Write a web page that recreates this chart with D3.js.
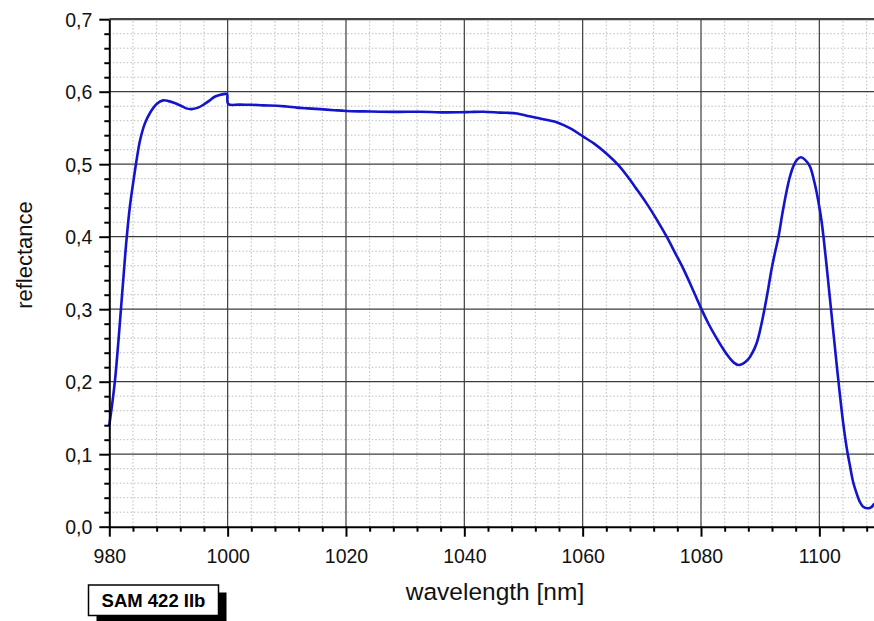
<!DOCTYPE html>
<html>
<head>
<meta charset="utf-8">
<script src="https://cdn.jsdelivr.net/npm/d3@7"></script>
<style>
    body { margin: 0; background: #fff; }
    text { font-family: Arial, "Liberation Sans", sans-serif; }
</style>
</head>
<body>
<div id="graph"></div>
<script>
// Spectrum: wavelength (nm) and reflectance
const wavelength = [980.0, 980.5, 981.0, 981.5, 981.9, 982.4, 982.9, 983.5, 984.1, 984.6,
    985.2, 986.0, 986.9, 988.0, 989.1, 990.0, 990.8, 992.0, 993.0, 993.9,
    995.0, 995.9, 996.8, 997.6, 998.5, 999.6, 999.9, 1000.1, 1002.0, 1004.0,
    1006.0, 1008.3, 1010.0, 1011.7, 1013.5, 1015.6, 1018.0, 1020.0, 1023.0, 1025.7,
    1029.0, 1032.5, 1036.0, 1039.3, 1041.0, 1043.2, 1046.0, 1048.9, 1051.0, 1052.8,
    1055.6, 1058.0, 1060.1, 1062.0, 1064.1, 1066.0, 1067.4, 1069.0, 1070.8, 1072.5,
    1074.2, 1075.6, 1077.0, 1078.4, 1079.8, 1081.2, 1082.7, 1084.0, 1084.9, 1085.6,
    1086.3, 1087.1, 1088.0, 1088.7, 1089.4, 1090.1, 1090.8, 1091.4, 1091.9, 1092.5,
    1093.1, 1093.8, 1094.5, 1095.0, 1095.6, 1096.2, 1096.9, 1097.6, 1098.4, 1099.2,
    1100.0, 1100.4, 1100.7, 1101.2, 1101.8, 1102.3, 1102.9, 1103.5, 1104.0, 1104.6,
    1105.2, 1105.7, 1106.3, 1106.8, 1107.4, 1108.3, 1108.8, 1109.3];
const reflectance = [0.140, 0.170, 0.205, 0.252, 0.293, 0.345, 0.395, 0.443, 0.478, 0.505,
    0.533, 0.556, 0.571, 0.583, 0.588, 0.587, 0.585, 0.581, 0.577, 0.576,
    0.578, 0.582, 0.587, 0.592, 0.595, 0.597, 0.597, 0.583, 0.5822, 0.5820,
    0.5812, 0.5807, 0.5795, 0.578, 0.577, 0.576, 0.5745, 0.5734, 0.5728, 0.5724,
    0.5722, 0.5724, 0.5715, 0.5716, 0.572, 0.5724, 0.5712, 0.570, 0.566, 0.563,
    0.558, 0.549, 0.538, 0.528, 0.514, 0.499, 0.485, 0.467, 0.446, 0.424,
    0.400, 0.378, 0.356, 0.331, 0.305, 0.281, 0.259, 0.242, 0.232, 0.226,
    0.223, 0.225, 0.231, 0.240, 0.253, 0.275, 0.303, 0.330, 0.354, 0.378,
    0.400, 0.434, 0.464, 0.482, 0.497, 0.506, 0.5095, 0.506, 0.497, 0.474,
    0.441, 0.420, 0.400, 0.362, 0.314, 0.274, 0.226, 0.180, 0.145, 0.110,
    0.083, 0.062, 0.046, 0.035, 0.0276, 0.0254, 0.027, 0.032];

// Axis ticks and labels
const x_major = [980, 1000, 1020, 1040, 1060, 1080, 1100];
const y_major = [0.0, 0.1, 0.2, 0.3, 0.4, 0.5, 0.6, 0.7];
const x_title = "wavelength [nm]";
const y_title = "reflectance";
const sample_name = "SAM 422 IIb";

const width = 874, height = 621;
const margin = {left: 109.3, top: 19.2, bottom: 94.3};

let svg = d3.select("#graph")
    .append("svg")
    .attr("width", width)
    .attr("height", height);

// Scales (axis runs to 1110, a little past the right edge of the picture)
let x = d3.scaleLinear()
    .domain([980, 1110])
    .range([margin.left, margin.left + 130 * 5.917]);
let y = d3.scaleLinear()
    .domain([0, 0.7])
    .range([height - margin.bottom, margin.top]);

const x_minor = d3.range(980, 1111, 4).filter(v => !x_major.includes(v));
const y_minor = d3.range(0, 71, 2).map(v => v / 100).filter(v => Math.round(v * 100) % 10 !== 0);

// Minor grid (dotted)
svg.append("g").selectAll("line")
    .data(x_minor)
    .enter()
    .append("line")
    .attr("x1", d => x(d)).attr("x2", d => x(d))
    .attr("y1", y(0)).attr("y2", y(0.7))
    .style("stroke", "#bcbcbc")
    .style("stroke-dasharray", "1.5,2");
svg.append("g").selectAll("line")
    .data(y_minor)
    .enter()
    .append("line")
    .attr("x1", x(980)).attr("x2", width)
    .attr("y1", d => y(d)).attr("y2", d => y(d))
    .style("stroke", "#bcbcbc")
    .style("stroke-dasharray", "1.5,2");

// Major grid (solid)
svg.append("g").selectAll("line")
    .data(x_major.slice(1))
    .enter()
    .append("line")
    .attr("x1", d => x(d)).attr("x2", d => x(d))
    .attr("y1", y(0)).attr("y2", y(0.7))
    .style("stroke", "#3c3c3c")
    .style("stroke-width", 1.2);
svg.append("g").selectAll("line")
    .data(y_major.slice(1))
    .enter()
    .append("line")
    .attr("x1", x(980)).attr("x2", width)
    .attr("y1", d => y(d)).attr("y2", d => y(d))
    .style("stroke", d => d === 0.7 ? "#444" : "#3c3c3c")
    .style("stroke-width", d => d === 0.7 ? 2.2 : 1.2);

// The curve
let points = wavelength.map((w, i) => [w, reflectance[i]]);
svg.append("path")
    .datum(points)
    .attr("d", d3.line()
        .x(d => x(d[0]))
        .y(d => y(d[1]))
        .curve(d3.curveCatmullRom.alpha(0.5)))
    .style("fill", "none")
    .style("stroke", "#1414cc")
    .style("stroke-width", 2.6)
    .style("stroke-linejoin", "round");

const comma = v => d3.format(".1f")(v).replace(".", ",");

// Bottom axis: major ticks with labels, minor ticks without
let x_axis = svg.append("g")
    .attr("transform", `translate(0, ${y(0)})`)
    .call(d3.axisBottom(x).tickValues(x_major).tickSize(10).tickSizeOuter(0)
        .tickPadding(8).tickFormat(d3.format("d")));
svg.append("g")
    .attr("transform", `translate(0, ${y(0)})`)
    .call(d3.axisBottom(x).tickValues(x_minor).tickSize(5).tickSizeOuter(0).tickFormat(""))
    .call(g => g.select(".domain").remove());

// Left axis
let y_axis = svg.append("g")
    .attr("transform", `translate(${x(980)}, 0)`)
    .call(d3.axisLeft(y).tickValues(y_major).tickSize(10).tickSizeOuter(0).tickPadding(7).tickFormat(comma));
svg.append("g")
    .attr("transform", `translate(${x(980)}, 0)`)
    .call(d3.axisLeft(y).tickValues(y_minor).tickSize(5).tickSizeOuter(0).tickFormat(""))
    .call(g => g.select(".domain").remove());

svg.selectAll(".domain").style("stroke", "#000").style("stroke-width", 2);
svg.selectAll(".tick line").style("stroke", "#000").style("stroke-width", 2);
x_axis.selectAll(".tick text")
    .style("font-size", "19.5px").style("fill", "#111")
    .attr("dy", "0.95em");
y_axis.selectAll(".tick text")
    .style("font-size", "19.5px").style("fill", "#111")
    .attr("dy", "0.36em");

// Axis titles
svg.append("text")
    .attr("x", 495)
    .attr("y", 600)
    .style("text-anchor", "middle")
    .style("font-size", "24.5px")
    .style("fill", "#111")
    .text(x_title);
svg.append("text")
    .attr("transform", `translate(32, 255) rotate(-90)`)
    .style("text-anchor", "middle")
    .style("font-size", "22px")
    .style("fill", "#111")
    .text(y_title);

// Sample label with a drop shadow
let label = svg.append("g");
label.append("rect")
    .attr("x", 96.5).attr("y", 592.5)
    .attr("width", 130).attr("height", 31)
    .style("fill", "#000");
label.append("rect")
    .attr("x", 88.5).attr("y", 585)
    .attr("width", 130).attr("height", 30.5)
    .style("fill", "#fff")
    .style("stroke", "#000")
    .style("stroke-width", 1.5);
label.append("text")
    .attr("x", 153.5)
    .attr("y", 606.5)
    .style("text-anchor", "middle")
    .style("font-size", "18.5px")
    .style("font-weight", "bold")
    .style("fill", "#000")
    .text(sample_name);
</script>
</body>
</html>
